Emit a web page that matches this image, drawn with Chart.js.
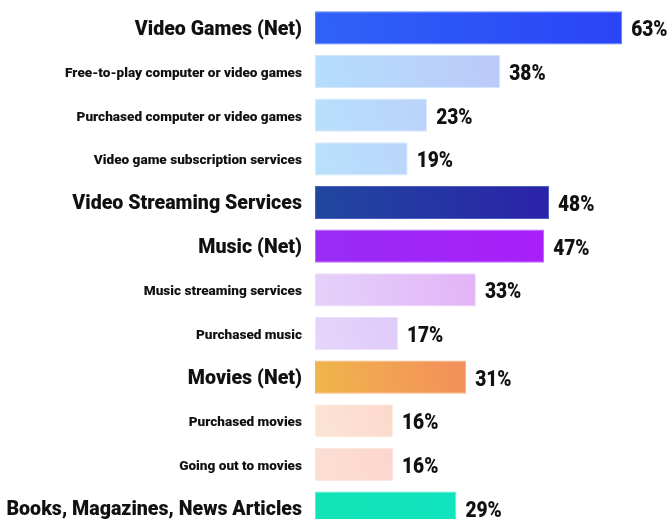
<!DOCTYPE html>
<html>
<head>
<meta charset="utf-8">
<script src="https://cdn.jsdelivr.net/npm/chart.js@4"></script>
<style>
  html, body { margin: 0; padding: 0; background: #fff; overflow: hidden; }
  canvas { display: block; }
</style>
</head>
<body>
<canvas id="media-chart" width="670" height="532"></canvas>
<script>
const categories = [
  "Video Games (Net)",
  "Free-to-play computer or video games",
  "Purchased computer or video games",
  "Video game subscription services",
  "Video Streaming Services",
  "Music (Net)",
  "Music streaming services",
  "Purchased music",
  "Movies (Net)",
  "Purchased movies",
  "Going out to movies",
  "Books, Magazines, News Articles",
];
const shares = [63, 38, 23, 19, 48, 47, 33, 17, 31, 16, 16, 29];
const isHeading = [true, false, false, false, true, true, false, false, true, false, false, true];

// left -> right gradient stops for each bar
const gradStart = ["#3062f8", "#b5defc", "#b7e0fc", "#b8e1fc", "#20489f", "#992cf5", "#e4d2fa", "#e5d6fb", "#f0b64b", "#fce5d5", "#fcdfd4", "#12e3b6"];
const gradEnd   = ["#2a44f6", "#bcc9f9", "#bcd2fa", "#bbd5fa", "#2b22a9", "#a81ef9", "#e3b3f7", "#dfc9f9", "#f38e5b", "#fcd8cc", "#fcd6cd", "#10e4be"];
const borders   = ["#5a7dfa", "#d3e6fc", "#d6eafd", "#d6eafd", "#4a5fc0", "#b865fa", "#eed8fb", "#eedffc", "#f6b47e", "#fdeee4", "#fde8e1", "#5aeccd"];

function barGradient(context) {
  const chart = context.chart;
  const i = context.dataIndex;
  if (!chart.chartArea) return gradStart[i];
  const x = chart.scales.x, y = chart.scales.y;
  const x0 = x.getPixelForValue(0);
  const x1 = x.getPixelForValue(shares[i]);
  const yc = y.getPixelForValue(i);
  const g = chart.ctx.createLinearGradient(x0, yc + 16, x1, yc - 16);
  g.addColorStop(0, gradStart[i]);
  g.addColorStop(1, gradEnd[i]);
  return g;
}

// percentage text after each bar, squeezed horizontally
const valueLabels = {
  id: "valueLabels",
  afterDatasetsDraw(chart) {
    const ctx = chart.ctx;
    const meta = chart.getDatasetMeta(0);
    const squeeze = 0.87;
    ctx.save();
    ctx.font = "900 22px Roboto, sans-serif";
    ctx.fillStyle = "#111";
    ctx.textAlign = "left";
    ctx.textBaseline = "middle";
    meta.data.forEach((bar, i) => {
      ctx.save();
      ctx.translate(bar.x + 9, bar.y + 3);
      ctx.scale(squeeze, 1);
      ctx.fillText(shares[i] + "%", 0, 0);
      ctx.restore();
    });
    ctx.restore();
  }
};

new Chart(document.getElementById("media-chart"), {
  type: "bar",
  data: {
    labels: categories,
    datasets: [{
      data: shares,
      backgroundColor: barGradient,
      borderColor: borders,
      borderWidth: 1,
      borderSkipped: false,
      categoryPercentage: 1,
      barPercentage: 0.76,
    }]
  },
  options: {
    indexAxis: "y",
    responsive: false,
    animation: false,
    layout: { padding: { top: 6, bottom: 2, right: 4, left: 0 } },
    scales: {
      x: { min: 0, max: 72, display: false },
      y: {
        grid: { display: false, drawTicks: false },
        border: { display: false },
        afterFit(scale) {
          scale.width = 315;
          // labels sit inside their rows, no overflow room needed
          scale.paddingTop = 0;
          scale.paddingBottom = 0;
        },
        ticks: {
          padding: 13,
          labelOffset: 2,
          color: "#111",
          autoSkip: false,
          font: (c) => isHeading[c.index]
            ? { family: "Roboto, sans-serif", weight: 900, size: 19.6 }
            : { family: "Roboto, sans-serif", weight: 900, size: 13.6 },
        }
      }
    },
    plugins: {
      legend: { display: false },
      tooltip: { enabled: false },
    }
  },
  plugins: [valueLabels]
});
</script>
</body>
</html>
